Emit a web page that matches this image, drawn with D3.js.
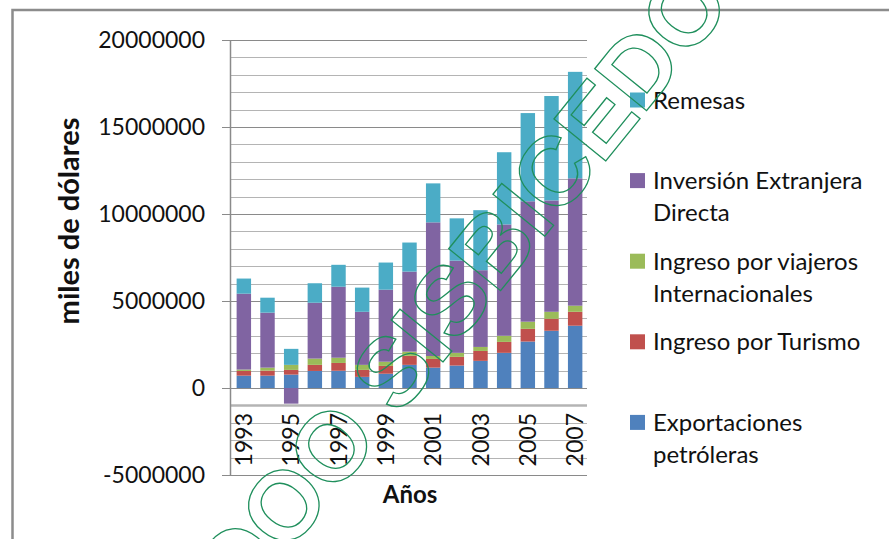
<!DOCTYPE html>
<html>
<head>
<meta charset="utf-8">
<script src="https://cdn.jsdelivr.net/npm/d3@7"></script>
<style>
  body { margin: 0; background: #fff; }
  svg { display: block; }
</style>
</head>
<body>
<svg id="chart"></svg>
<script>
// data (miles de dólares)
const years = [1993, 1994, 1995, 1996, 1997, 1998, 1999, 2000, 2001, 2002, 2003, 2004, 2005, 2006, 2007];
const exportaciones = [710000, 710000, 770000, 980000, 990000, 640000, 820000, 1330000, 1170000, 1290000, 1560000, 2020000, 2670000, 3290000, 3580000];
const turismo = [270000, 290000, 270000, 350000, 450000, 400000, 450000, 520000, 500000, 500000, 570000, 630000, 730000, 690000, 800000];
const viajeros = [80000, 170000, 290000, 360000, 300000, 290000, 240000, 240000, 170000, 230000, 230000, 350000, 410000, 400000, 350000];
const inversion = [4360000, 3160000, -900000, 3210000, 4080000, 3050000, 4140000, 4600000, 7680000, 5300000, 4410000, 6400000, 6920000, 6400000, 7320000];
const remesas = [870000, 860000, 920000, 1120000, 1260000, 1390000, 1560000, 1670000, 2240000, 2430000, 3450000, 4150000, 5070000, 6000000, 6120000];

const seriesKeys = ["exportaciones", "turismo", "viajeros", "inversion", "remesas"];
const seriesColors = ["#4F81BD", "#C0504D", "#9BBB59", "#8064A2", "#4BACC6"];
const legendLines = [
  ["Exportaciones", "petróleras"],
  ["Ingreso por Turismo"],
  ["Ingreso por viajeros", "Internacionales"],
  ["Inversión Extranjera", "Directa"],
  ["Remesas"]
];
const yTicks = [-5000000, 0, 5000000, 10000000, 15000000, 20000000];
const xTickLabels = ["1993", "1995", "1997", "1999", "2001", "2003", "2005", "2007"];
const watermark = "OOO SISBICEDO";

const W = 889, H = 539;
const svg = d3.select("#chart").attr("width", W).attr("height", H);

// outer chart border (cut off at right and bottom)
svg.append("rect")
  .attr("x", 12.5).attr("y", 10)
  .attr("width", 1000).attr("height", 1000)
  .attr("fill", "#fff")
  .attr("stroke", "#8c8c8c")
  .attr("stroke-width", 2.5);

const plot = { left: 230, right: 587, top: 40, bottom: 475 };

const y = d3.scaleLinear()
  .domain([-5000000, 20000000])
  .range([plot.bottom, plot.top]);

const x = d3.scaleBand()
  .domain(years)
  .range([plot.left, 589])
  .paddingInner(0.39)
  .paddingOuter(0.28);

const table = years.map((yr, i) => ({
  year: yr,
  exportaciones: exportaciones[i],
  turismo: turismo[i],
  viajeros: viajeros[i],
  inversion: inversion[i],
  remesas: remesas[i]
}));

const stacked = d3.stack()
  .keys(seriesKeys)
  .offset(d3.stackOffsetDiverging)(table);

// gridlines every 1 000 000
const grid = d3.range(-5000000, 20000001, 1000000);
svg.append("g")
  .selectAll("line")
  .data(grid)
  .join("line")
  .attr("x1", d => d % 5000000 === 0 ? plot.left - 8 : plot.left)
  .attr("x2", plot.right)
  .attr("y1", d => Math.round(y(d)) + 0.5)
  .attr("y2", d => Math.round(y(d)) + 0.5)
  .attr("stroke", d => d % 5000000 === 0 ? "#8a8a8a" : "#b4b4b4")
  .attr("stroke-width", d => d === -1000000 ? 2.5 : 1.2);

// bars
svg.append("g")
  .selectAll("g")
  .data(stacked)
  .join("g")
  .attr("fill", (d, i) => seriesColors[i])
  .selectAll("rect")
  .data(d => d)
  .join("rect")
  .attr("x", d => x(d.data.year))
  .attr("width", x.bandwidth())
  .attr("y", d => y(d[1]))
  .attr("height", d => y(d[0]) - y(d[1]));

// value axis
svg.append("line")
  .attr("x1", plot.left + 0.5).attr("x2", plot.left + 0.5)
  .attr("y1", plot.top).attr("y2", plot.bottom)
  .attr("stroke", "#8a8a8a").attr("stroke-width", 1.5);

const font = "Lato, 'Open Sans', sans-serif";

svg.append("g")
  .selectAll("text")
  .data(yTicks)
  .join("text")
  .attr("x", 205)
  .attr("y", d => y(d))
  .attr("dy", "0.36em")
  .attr("text-anchor", "end")
  .attr("font-family", font)
  .attr("font-size", 23)
  .attr("fill", "#111")
  .text(d => d);

// category labels (every second year)
svg.append("g")
  .selectAll("text")
  .data(xTickLabels)
  .join("text")
  .attr("transform", d => `translate(${x(+d) + x.bandwidth() / 2},413) rotate(-90)`)
  .attr("dy", "0.36em")
  .attr("text-anchor", "end")
  .attr("font-family", font)
  .attr("font-size", 23)
  .attr("fill", "#111")
  .text(d => d);

// axis titles
svg.append("text")
  .attr("x", 410).attr("y", 503)
  .attr("text-anchor", "middle")
  .attr("font-family", font)
  .attr("font-weight", "bold")
  .attr("font-size", 24)
  .attr("fill", "#111")
  .text("Años");

svg.append("text")
  .attr("transform", "translate(79,221) rotate(-90)")
  .attr("text-anchor", "middle")
  .attr("font-family", font)
  .attr("font-weight", "bold")
  .attr("font-size", 29)
  .attr("fill", "#111")
  .text("miles de dólares");

// legend, top entry is the top of the stack
const legend = svg.append("g");
const legendItems = seriesKeys.map((k, i) => i).reverse();
legendItems.forEach((si, row) => {
  const cy = 100 + row * 80.6;
  legend.append("rect")
    .attr("x", 630).attr("y", cy - 7.5)
    .attr("width", 15).attr("height", 15)
    .attr("fill", seriesColors[si]);
  const t = legend.append("text")
    .attr("x", 653).attr("y", cy + 8.5)
    .attr("font-family", font)
    .attr("font-size", 24)
    .attr("fill", "#111");
  legendLines[si].forEach((line, j) => {
    t.append("tspan")
      .attr("x", 653)
      .attr("dy", j === 0 ? 0 : 32)
      .text(line);
  });
});

// scanned watermark, outlined letters drawn over the chart
svg.append("text")
  .attr("transform", "translate(460,287) rotate(-51)")
  .attr("dy", "0.35em")
  .attr("text-anchor", "middle")
  .attr("font-family", "'Liberation Sans', Arial, sans-serif")
  .attr("font-weight", "bold")
  .attr("font-size", 97)
  .attr("fill", "none")
  .attr("stroke", "#1f8f5c")
  .attr("stroke-width", 1.3)
  .text(watermark);
</script>
</body>
</html>
